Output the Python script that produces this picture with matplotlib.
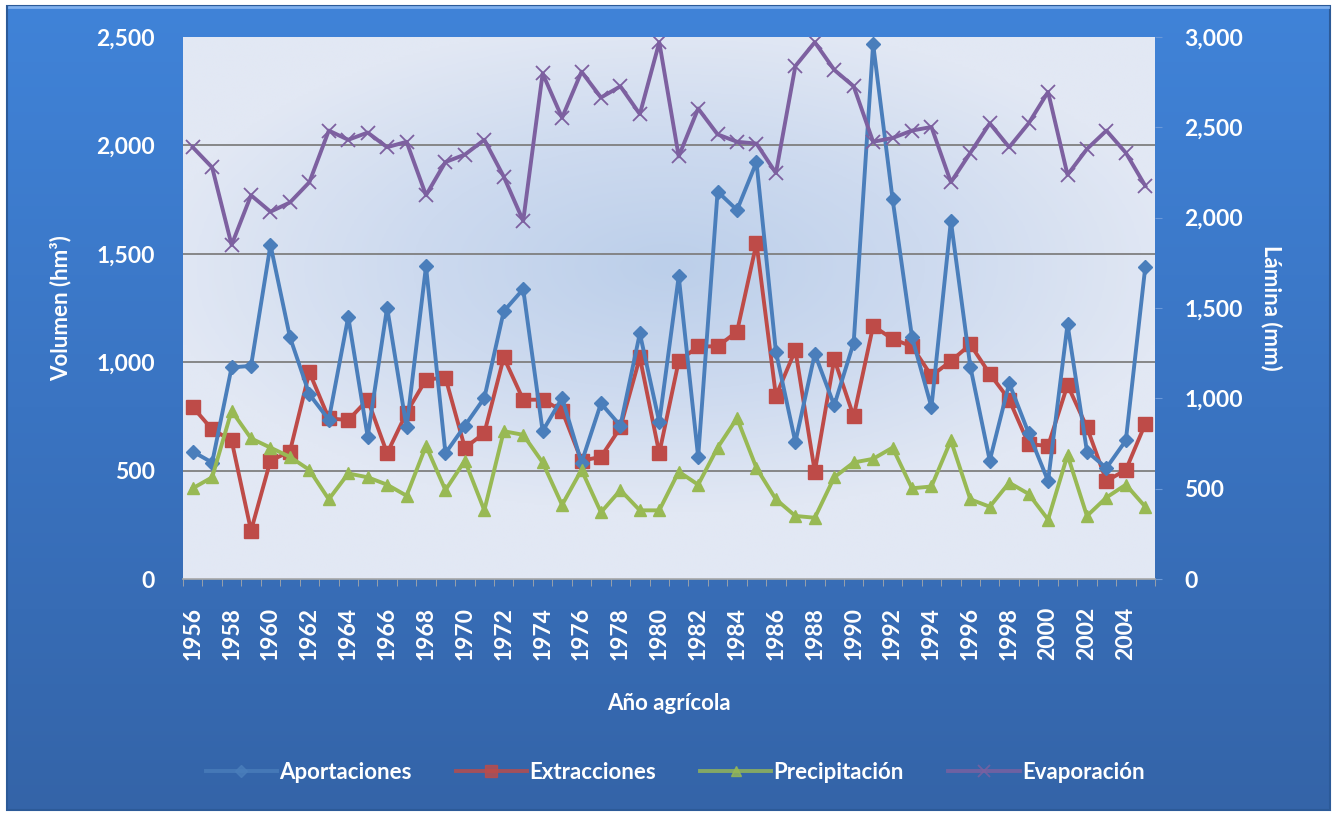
import numpy as np
import matplotlib
matplotlib.use("Agg")
import matplotlib.pyplot as plt
from matplotlib.colors import LinearSegmentedColormap
from matplotlib.patches import Rectangle
from matplotlib.ticker import FuncFormatter, MultipleLocator, FixedLocator

plt.rcParams['font.family'] = ['Lato', 'DejaVu Sans']

years = list(range(1956, 2006))
aportaciones = [588, 537, 976, 983, 1541, 1116, 852, 735, 1209, 656,
                1252, 699, 1442, 580, 707, 835, 1235, 1337, 682, 835,
                537, 810, 707, 1133, 724, 1396, 563, 1787, 1702, 1923,
                1048, 631, 1039, 801, 1090, 2468, 1753, 1116, 793, 1651,
                980, 546, 903, 673, 452, 1175, 588, 512, 639, 1439]
extracciones = [793, 690, 639, 223, 546, 588, 954, 741, 733, 827,
                580, 767, 920, 929, 605, 673, 1022, 827, 827, 776,
                546, 563, 699, 1022, 580, 1005, 1073, 1073, 1141, 1549,
                844, 1056, 495, 1014, 750, 1167, 1107, 1073, 937, 1005,
                1082, 946, 827, 622, 614, 895, 699, 452, 503, 716]
precipitacion = [502, 563, 931, 778, 727, 676, 604, 441, 584, 563,
                 522, 461, 737, 492, 655, 380, 818, 798, 645, 410,
                 604, 369, 492, 380, 380, 594, 522, 727, 890, 614,
                 441, 349, 339, 563, 645, 665, 727, 502, 512, 767,
                 441, 400, 533, 471, 329, 686, 349, 451, 522, 400]
evaporacion = [2390, 2278, 1849, 2124, 2033, 2084, 2196, 2482, 2431, 2471,
               2390, 2420, 2124, 2308, 2349, 2431, 2227, 1982, 2798, 2553,
               2808, 2665, 2727, 2573, 2971, 2339, 2604, 2461, 2420, 2410,
               2247, 2839, 2971, 2818, 2727, 2420, 2441, 2482, 2502, 2196,
               2359, 2522, 2390, 2522, 2696, 2237, 2380, 2482, 2359, 2176]

W, H = 1337, 813
fig = plt.figure(figsize=(W / 100, H / 100), dpi=100)
fig.patch.set_facecolor('white')

# outer blue panel with vertical gradient
bg = fig.add_axes([0, 0, 1, 1], zorder=-10)
bg.set_xlim(0, W)
bg.set_ylim(H, 0)
bg.axis('off')
grad = np.linspace(0, 1, 256).reshape(-1, 1)
cm_out = LinearSegmentedColormap.from_list('o', ['#4083d8', '#3a74c2', '#3464a8'])
bg.imshow(grad, cmap=cm_out, extent=[7, 1330, 810, 6], aspect='auto', zorder=1)
bg.add_patch(Rectangle((7, 6), 1323, 804, fill=False, edgecolor='#2c5a98', lw=1.5, zorder=2))
bg.plot([9, 1328], [7.5, 7.5], color='#7fb0ee', lw=2, zorder=3)

# main plot area
x0, x1, y0, y1 = 183, 1155, 37, 579
ax = fig.add_axes([x0 / W, 1 - y1 / H, (x1 - x0) / W, (y1 - y0) / H])
ax.set_facecolor('none')
nx, ny = 400, 240
gx, gy = np.meshgrid(np.linspace(-1, 1, nx), np.linspace(-1, 1, ny))
r = np.sqrt((gx * 0.95) ** 2 + ((gy + 0.15) * 1.1) ** 2)
r = np.clip(r, 0, 1)
cm_in = LinearSegmentedColormap.from_list('i', ['#bccfea', '#cddaef', '#e2e8f4'])
ax.imshow(r, cmap=cm_in, extent=[0, 1, 0, 1], transform=ax.transAxes,
          aspect='auto', zorder=0, interpolation='bilinear')

xs = np.arange(len(years))
ax.set_xlim(-0.5, len(years) - 0.5)
ax.set_ylim(0, 2500)
ax.yaxis.set_major_locator(MultipleLocator(500))
ax.yaxis.set_major_formatter(FuncFormatter(lambda v, p: f"{int(v):,}"))
for v in [500, 1000, 1500, 2000]:
    ax.axhline(v, color='#7f7f7f', lw=1.3, zorder=1)

ax2 = ax.twinx()
ax2.set_ylim(0, 3000)
ax2.yaxis.set_major_locator(MultipleLocator(500))
ax2.yaxis.set_major_formatter(FuncFormatter(lambda v, p: f"{int(v):,}"))

l1, = ax.plot(xs, aportaciones, color='#4a7ebb', lw=2.8, marker='D', ms=7.5,
              markeredgecolor='#4a7ebb', zorder=4, label='Aportaciones')
l2, = ax.plot(xs, extracciones, color='#be4b48', lw=2.8, marker='s', ms=10,
              markeredgecolor='#be4b48', zorder=3, label='Extracciones')
l3, = ax2.plot(xs, precipitacion, color='#98b954', lw=2.8, marker='^', ms=9,
               markeredgecolor='#98b954', zorder=3, label='Precipitación')
l4, = ax2.plot(xs, evaporacion, color='#7d60a0', lw=2.8, marker='x', ms=10,
               mew=1.3, zorder=3, label='Evaporación')

for a in (ax, ax2):
    for s in a.spines.values():
        s.set_visible(False)
ax.spines['bottom'].set_visible(True)
ax.spines['bottom'].set_color('#a8a8a8')
ax.spines['bottom'].set_linewidth(1.2)

ax.set_xticks(xs[::2])
ax.set_xticklabels([str(y) for y in years[::2]], rotation=90)
ax.xaxis.set_minor_locator(FixedLocator(np.arange(-0.5, len(years), 1)))
ax.tick_params(axis='x', which='major', length=0, pad=20, labelsize=16.5,
               labelcolor='white')
ax.tick_params(axis='x', which='minor', length=5, color='#a8a8a8', direction='out')
for lab in ax.get_xticklabels():
    lab.set_fontweight('bold')
ax.tick_params(axis='y', length=0, pad=20, labelsize=16.5, labelcolor='white')
ax2.tick_params(axis='y', length=5, color='#6a98d8', pad=16, labelsize=16.5,
                labelcolor='white')
for lab in ax.get_yticklabels() + ax2.get_yticklabels():
    lab.set_fontweight('bold')

ax.set_ylabel('Volumen (hm³)', color='white', fontsize=16, fontweight='bold',
              labelpad=18)
ax2.set_ylabel('Lámina (mm)', color='white', fontsize=16, fontweight='bold',
               rotation=270, labelpad=28)
ax.set_xlabel('Año agrícola', color='white', fontsize=16, fontweight='bold',
              labelpad=24)

leg = fig.legend(handles=[l1, l2, l3, l4], loc='center',
                 bbox_to_anchor=(675 / W, 1 - 772 / H), ncol=4, frameon=False,
                 prop={'size': 16, 'weight': 'bold'}, handlelength=3.2,
                 handletextpad=0.1, columnspacing=2.0, markerscale=0.8)
for t in leg.get_texts():
    t.set_color('white')
for h in leg.legend_handles:
    h.set_alpha(0.8)

fig.savefig('out.png', dpi=100, facecolor=fig.get_facecolor())
